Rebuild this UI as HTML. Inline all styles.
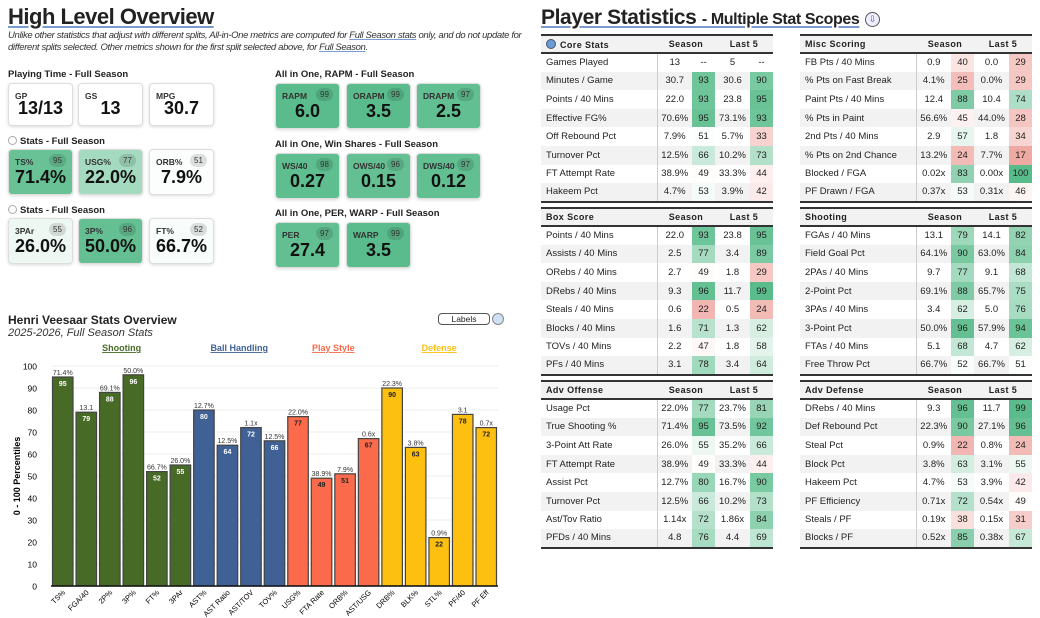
<!DOCTYPE html>
<html><head><meta charset="utf-8">
<style>
*{box-sizing:border-box;margin:0;padding:0}
body{width:1040px;height:618px;background:#fff;font-family:"Liberation Sans",sans-serif;color:#222;position:relative;overflow:hidden}
.abs{position:absolute}
.h1{left:8px;top:4px;font-size:22px;font-weight:bold;letter-spacing:-0.5px;text-decoration:underline;text-decoration-color:#7a9ad0}
.sub{left:8px;top:30px;font-size:9.5px;font-style:italic;color:#333;line-height:12px;width:530px;letter-spacing:-0.35px}
.sub u{text-decoration-color:#7a9ad0}
.lbl{font-size:9.5px;font-weight:bold;color:#222}
.card{position:absolute;border:1px solid #ddd;border-radius:4px;box-shadow:0 1px 3px rgba(0,0,0,.15);background:#fff}
.card .k{position:absolute;left:6px;top:7px;font-size:8.5px;font-weight:bold;color:#333}
.card .v{position:absolute;left:0;right:0;text-align:center;bottom:6px;font-size:18px;font-weight:bold;color:#111}
.card .p{position:absolute;right:6px;top:4px;width:17px;height:13px;border-radius:7px;background:rgba(0,0,0,.12);font-size:8px;text-align:center;line-height:13px;color:#333}
.radio{display:inline-block;width:9px;height:9px;border:1px solid #aaa;border-radius:50%;vertical-align:-1px;margin-right:3px}
.h2{left:541px;top:6px;font-size:21px;font-weight:bold;font-style:normal;letter-spacing:-0.4px;text-decoration:underline;text-decoration-color:#7a9ad0}
.h2 span{font-size:16px}
table{position:absolute;border-collapse:collapse;font-size:9.5px;width:232px}
td{height:18.6px;padding:0 3px;white-space:nowrap}
th{height:18px;font-weight:bold;font-size:9px;letter-spacing:.4px;text-align:center;background:#f2f2f2;border-top:2px solid #333;border-bottom:2px solid #333}
th.n{text-align:left;padding-left:5px}
td.nm{width:116px;border-right:1px solid #ccc;padding-left:5px}
td.c{text-align:center}
tr.alt td{background:#f2f2f2}
tbody tr:last-child td{border-bottom:2px solid #333}
</style></head><body>
<div class="abs h1">High Level Overview</div>
<div class="abs sub">Unlike other statistics that adjust with different splits, All-in-One metrics are computed for <u>Full Season stats</u> only, and do not update for different splits selected. Other metrics shown for the first split selected above, for <u>Full Season</u>.</div>

<div class="abs lbl" style="left:8px;top:69px">Playing Time - Full Season</div>
<div class="abs lbl" style="left:8px;top:136px"><span class="radio"></span>Stats - Full Season</div>
<div class="abs lbl" style="left:8px;top:205px"><span class="radio"></span>Stats - Full Season</div>
<div class="abs lbl" style="left:275px;top:69px">All in One, RAPM - Full Season</div>
<div class="abs lbl" style="left:275px;top:139px">All in One, Win Shares - Full Season</div>
<div class="abs lbl" style="left:275px;top:208px">All in One, PER, WARP - Full Season</div>
<div id="cards"></div>

<div class="abs" style="left:8px;top:313px;font-size:12px;font-weight:bold">Henri Veesaar Stats Overview</div>
<div class="abs" style="left:8px;top:327px;font-size:11px;font-style:italic;color:#333">2025-2026, Full Season Stats</div>
<div class="abs" style="left:438px;top:313px;width:52px;height:12px;border:1px solid #555;border-radius:4px;font-size:8.5px;text-align:center;line-height:10px">Labels</div>
<div class="abs" style="left:492px;top:313px;width:12px;height:12px;border:1px solid #888;border-radius:50%;background:#cfe0f5"></div>
<svg id="chart" class="abs" style="left:0;top:335px" width="530" height="283"></svg>

<div class="abs h2">Player Statistics <span>- Multiple Stat Scopes</span></div>
<div class="abs" style="left:865px;top:12px;width:15px;height:15px;border:1px solid #555;border-radius:50%;background:#eef;font-size:9px;text-align:center;line-height:13px;color:#3a5a9a">⇩</div>
<div id="tables"></div>

<script>
function pctColor(p){
  var w=[255,255,255],g=[87,187,138],r=[230,124,115],t,c;
  if(p>=50){t=(p-50)/50;c=g;}else{t=(50-p)/50;c=r;}
  return 'rgb('+w.map(function(v,i){return Math.round(v+(c[i]-v)*t);}).join(',')+')';
}
var cardDefs=[
 [8,83,'GP','13/13',null],[78,83,'GS','13',null],[149,83,'MPG','30.7',null],
 [8,149,'TS%','71.4%',95],[78,149,'USG%','22.0%',77],[149,149,'ORB%','7.9%',51],
 [8,218,'3PAr','26.0%',55],[78,218,'3P%','50.0%',96],[149,218,'FT%','66.7%',52],
 [275,83,'RAPM','6.0',99],[346,83,'ORAPM','3.5',99],[416,83,'DRAPM','2.5',97],
 [275,153,'WS/40','0.27',98],[346,153,'OWS/40','0.15',96],[416,153,'DWS/40','0.12',97],
 [275,222,'PER','27.4',97],[346,222,'WARP','3.5',99]];
var cw=document.getElementById('cards');
cardDefs.forEach(function(d){
  var c=document.createElement('div');
  
  
  c.className='card';
  var h=d[4]===null?43:46;
  c.style.cssText='left:'+d[0]+'px;top:'+d[1]+'px;width:65px;height:'+h+'px;background:'+(d[4]===null?'#fff':pctColor(d[4]));
  c.innerHTML='<div class="k">'+d[2]+'</div>'+(d[4]===null?'':'<div class="p">'+d[4]+'</div>')+'<div class="v">'+d[3]+'</div>';
  cw.appendChild(c);
});
var tables=[
 {x:541,y:34,t:'Core Stats',rows:[['Games Played','13',null,'5',null],['Minutes / Game','30.7',93,'30.6',90],['Points / 40 Mins','22.0',93,'23.8',95],['Effective FG%','70.6%',95,'73.1%',93],['Off Rebound Pct','7.9%',51,'5.7%',33],['Turnover Pct','12.5%',66,'10.2%',73],['FT Attempt Rate','38.9%',49,'33.3%',44],['Hakeem Pct','4.7%',53,'3.9%',42]]},
 {x:800,y:34,t:'Misc Scoring',rows:[['FB Pts / 40 Mins','0.9',40,'0.0',29],['% Pts on Fast Break','4.1%',25,'0.0%',29],['Paint Pts / 40 Mins','12.4',88,'10.4',74],['% Pts in Paint','56.6%',45,'44.0%',28],['2nd Pts / 40 Mins','2.9',57,'1.8',34],['% Pts on 2nd Chance','13.2%',24,'7.7%',17],['Blocked / FGA','0.02x',83,'0.00x',100],['PF Drawn / FGA','0.37x',53,'0.31x',46]]},
 {x:541,y:207,t:'Box Score',rows:[['Points / 40 Mins','22.0',93,'23.8',95],['Assists / 40 Mins','2.5',77,'3.4',89],['ORebs / 40 Mins','2.7',49,'1.8',29],['DRebs / 40 Mins','9.3',96,'11.7',99],['Steals / 40 Mins','0.6',22,'0.5',24],['Blocks / 40 Mins','1.6',71,'1.3',62],['TOVs / 40 Mins','2.2',47,'1.8',58],['PFs / 40 Mins','3.1',78,'3.4',64]]},
 {x:800,y:207,t:'Shooting',rows:[['FGAs / 40 Mins','13.1',79,'14.1',82],['Field Goal Pct','64.1%',90,'63.0%',84],['2PAs / 40 Mins','9.7',77,'9.1',68],['2-Point Pct','69.1%',88,'65.7%',75],['3PAs / 40 Mins','3.4',62,'5.0',76],['3-Point Pct','50.0%',96,'57.9%',94],['FTAs / 40 Mins','5.1',68,'4.7',62],['Free Throw Pct','66.7%',52,'66.7%',51]]},
 {x:541,y:380,t:'Adv Offense',rows:[['Usage Pct','22.0%',77,'23.7%',81],['True Shooting %','71.4%',95,'73.5%',92],['3-Point Att Rate','26.0%',55,'35.2%',66],['FT Attempt Rate','38.9%',49,'33.3%',44],['Assist Pct','12.7%',80,'16.7%',90],['Turnover Pct','12.5%',66,'10.2%',73],['Ast/Tov Ratio','1.14x',72,'1.86x',84],['PFDs / 40 Mins','4.8',76,'4.4',69]]},
 {x:800,y:380,t:'Adv Defense',rows:[['DRebs / 40 Mins','9.3',96,'11.7',99],['Def Rebound Pct','22.3%',90,'27.1%',96],['Steal Pct','0.9%',22,'0.8%',24],['Block Pct','3.8%',63,'3.1%',55],['Hakeem Pct','4.7%',53,'3.9%',42],['PF Efficiency','0.71x',72,'0.54x',49],['Steals / PF','0.19x',38,'0.15x',31],['Blocks / PF','0.52x',85,'0.38x',67]]}];
var tw=document.getElementById('tables');
tables.forEach(function(T){
  var tb=document.createElement('table');
  
  
  tb.style.left=T.x+'px';tb.style.top=T.y+'px';
  var icon=T.t==='Core Stats'?'<span style="display:inline-block;width:10px;height:10px;border-radius:50%;background:#6a9ad8;border:1px solid #456;vertical-align:-1px;margin-right:4px"></span>':'';
  var h='<thead><tr><th class="n" style="width:116px">'+icon+T.t+'</th><th colspan="2">Season</th><th colspan="2">Last 5</th></tr></thead><tbody>';
  T.rows.forEach(function(r,i){
    h+='<tr'+(i%2?' class="alt"':'')+'><td class="nm">'+r[0]+'</td><td class="c" style="width:35px">'+r[1]+'</td>'+
      '<td class="c" style="width:23px;'+(r[2]===null?'':'background:'+pctColor(r[2]))+'">'+(r[2]===null?'--':r[2])+'</td>'+
      '<td class="c" style="width:35px">'+r[3]+'</td>'+
      '<td class="c" style="width:23px;'+(r[4]===null?'':'background:'+pctColor(r[4]))+'">'+(r[4]===null?'--':r[4])+'</td></tr>';
  });
  tb.innerHTML=h+'</tbody>';
  tw.appendChild(tb);
});
</script>
<script>
var categories=['TS%','FGA/40','2P%','3P%','FT%','3PAr','AST%','AST Ratio','AST/TOV','TOV%','USG%','FTA Rate','ORB%','AST/USG','DRB%','BLK%','STL%','PF/40','PF Eff'];
var percentiles=[95,79,88,96,52,55,80,64,72,66,77,49,51,67,90,63,22,78,72];
var rawValues=['71.4%','13.1','69.1%','50.0%','66.7%','26.0%','12.7%','12.5%','1.1x','12.5%','22.0%','38.9%','7.9%','0.6x','22.3%','3.8%','0.9%','3.1','0.7x'];
var groups=[0,0,0,0,0,0,1,1,1,1,2,2,2,2,3,3,3,3,3];
var groupNames=['Shooting','Ball Handling','Play Style','Defense'];
var yTicks=[0,10,20,30,40,50,60,70,80,90,100];

var groupColors=['#486a27','#3f6196','#fb6a4a','#fdbf10'];
var innerText=['#fff','#fff','#222','#222'];
var svg=document.getElementById('chart'),NS='http://www.w3.org/2000/svg';
var X0=51,X1=498,Y0=251,Y1=31;
var band=(X1-X0)/categories.length;
function xs(i){return X0+i*band;}
function ys(v){return Y0-(v/100)*(Y0-Y1);}
function mk(tag,attrs,parent){var e=document.createElementNS(NS,tag);for(var k in attrs)e.setAttribute(k,attrs[k]);(parent||svg).appendChild(e);return e;}
yTicks.forEach(function(t){
  var gl=mk('line',{x1:X0,x2:X1,y1:ys(t),y2:ys(t),stroke:'#eee','stroke-width':1});
  
  
  var tx=mk('text',{x:37,y:ys(t)+3.5,'text-anchor':'end','font-size':'8.5','font-family':'Liberation Sans'});
  tx.textContent=t;
  
  
});
var yt=mk('text',{transform:'translate(20,'+((Y0+Y1)/2)+') rotate(-90)','text-anchor':'middle','font-size':'9','font-weight':'bold','font-family':'Liberation Sans'});
yt.textContent='0 - 100 Percentiles';


groupNames.forEach(function(g,gi){
  var idx=[];groups.forEach(function(v,i){if(v===gi)idx.push(i);});
  var cx=(xs(idx[0])+xs(idx[idx.length-1]+1))/2;
  var t=mk('text',{x:cx,y:16,'text-anchor':'middle','font-size':'9','font-weight':'bold',fill:groupColors[gi],'text-decoration':'underline','font-family':'Liberation Sans'});
  t.textContent=g;
  
  
});
categories.forEach(function(c,i){
  var bx=xs(i)+1.5,bw=band-3,by=ys(percentiles[i]);
  var r=mk('rect',{x:bx,y:by,width:bw,height:Y0-by,fill:groupColors[groups[i]],stroke:'#444','stroke-width':1.2});
  
  
  var v=mk('text',{x:bx+bw/2,y:by-2,'text-anchor':'middle','font-size':'7','fill':'#333','font-family':'Liberation Sans'});
  v.textContent=rawValues[i];
  
  
  var p=mk('text',{x:bx+bw/2,y:by+9,'text-anchor':'middle','font-size':'7','font-weight':'bold',fill:innerText[groups[i]],'font-family':'Liberation Sans'});
  p.textContent=percentiles[i];
  
  
  var cx=bx+bw/2+3;
  var xl=mk('text',{transform:'translate('+cx+','+(Y0+7)+') rotate(-45)','text-anchor':'end','font-size':'7.5','font-family':'Liberation Sans'});
  xl.textContent=c;
  
  
});
var ax=mk('line',{x1:X0,x2:X1,y1:Y0,y2:Y0,stroke:'#111','stroke-width':1.5});


</script>
</body></html>
